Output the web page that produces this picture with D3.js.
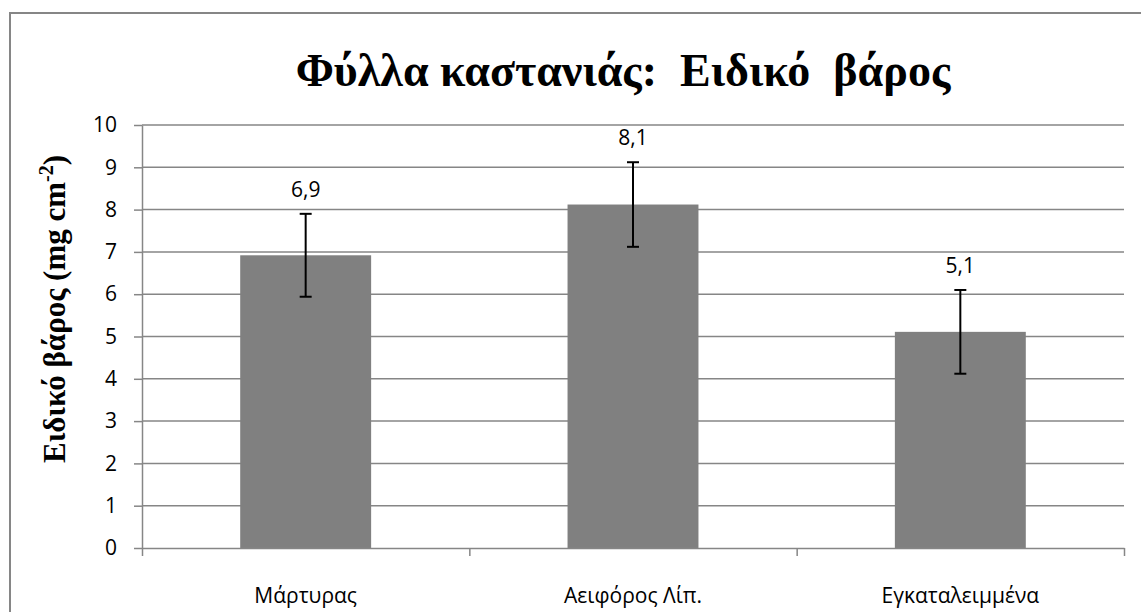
<!DOCTYPE html>
<html><head><meta charset="utf-8">
<script src="https://cdn.jsdelivr.net/npm/d3@7"></script>
<style>body{margin:0;background:#fff;}svg{display:block;}</style>
</head><body>
<script>
const categories = ["Μάρτυρας", "Αειφόρος Λίπ.", "Εγκαταλειμμένα"];
const values = [6.92, 8.12, 5.11];
const errors = [0.98, 1.0, 0.99];
const yTicks = [0,1,2,3,4,5,6,7,8,9,10];
const title = "Φύλλα καστανιάς:  Ειδικό  βάρος";

const W = 1141, H = 612;
const m = {left:142, right:1124, top:125, bottom:548};
const svg = d3.select("body").append("svg").attr("width", W).attr("height", H);

svg.append("rect").attr("x",10).attr("y",13).attr("width",1160).attr("height",640)
  .attr("fill","#fff").attr("stroke","#868686").attr("stroke-width",2);

const x = d3.scaleBand().domain(categories).range([m.left, m.right]).paddingInner(0.6).paddingOuter(0.3);
const y = d3.scaleLinear().domain([0,10]).range([m.bottom, m.top]);
const FONT = "'Open Sans', sans-serif";

// gridlines
svg.append("g").selectAll("line").data(yTicks.filter(d=>d>0)).join("line")
  .attr("x1", m.left).attr("x2", m.right)
  .attr("y1", d=>y(d)).attr("y2", d=>y(d))
  .attr("stroke","#868686").attr("stroke-width",1.5);

// y axis
const ya = svg.append("g").attr("transform",`translate(${m.left},0)`)
  .call(d3.axisLeft(y).tickValues(yTicks).tickSize(8).tickPadding(17).tickSizeOuter(0));
ya.select(".domain").attr("stroke","#868686").attr("stroke-width",1.5);
ya.selectAll(".tick line").attr("stroke","#868686").attr("stroke-width",1.5);
ya.selectAll(".tick text").attr("font-family",FONT).attr("font-size",21).attr("fill","#000");

// bars
svg.append("g").selectAll("rect").data(values).join("rect")
  .attr("x",(d,i)=>x(categories[i])).attr("width",x.bandwidth())
  .attr("y",d=>y(d)).attr("height",d=>y(0)-y(d)).attr("fill","#808080");

// x axis
const xb = d3.scaleLinear().domain([0,3]).range([m.left, m.right]);
const xa = svg.append("g").attr("transform",`translate(0,${m.bottom})`)
  .call(d3.axisBottom(xb).tickValues([0,1,2,3]).tickFormat("").tickSize(8).tickSizeOuter(0));
xa.select(".domain").attr("stroke","#868686").attr("stroke-width",1.5);
xa.selectAll(".tick line").attr("stroke","#868686").attr("stroke-width",1.5);
svg.append("g").selectAll("text").data(categories).join("text")
  .attr("x", d=>x(d)+x.bandwidth()/2).attr("y", 603)
  .attr("text-anchor","middle").attr("font-family",FONT).attr("font-size",21).attr("fill","#000")
  .text(d=>d);

// error bars
const eg = svg.append("g").attr("stroke","#000").attr("stroke-width",2);
values.forEach((v,i)=>{
  const cx = x(categories[i]) + x.bandwidth()/2;
  eg.append("line").attr("x1",cx).attr("x2",cx).attr("y1",y(v+errors[i])).attr("y2",y(v-errors[i]));
  eg.append("line").attr("x1",cx-6).attr("x2",cx+6).attr("y1",y(v+errors[i])).attr("y2",y(v+errors[i]));
  eg.append("line").attr("x1",cx-6).attr("x2",cx+6).attr("y1",y(v-errors[i])).attr("y2",y(v-errors[i]));
});

// value labels
svg.append("g").selectAll("text").data(values).join("text")
  .attr("x",(d,i)=>x(categories[i])+x.bandwidth()/2)
  .attr("y",(d,i)=>y(d+errors[i]) - 17)
  .attr("text-anchor","middle").attr("font-family",FONT).attr("font-size",21).attr("fill","#000")
  .text(d=>d3.format(".1f")(d).replace(".",","));

// title
svg.append("text").attr("x",623).attr("y",86).attr("text-anchor","middle")
  .attr("font-family","'Liberation Serif', serif").attr("font-weight","bold").attr("font-size",46)
  .attr("xml:space","preserve").style("white-space","pre").text(title);

// y title
const yt = svg.append("text").attr("transform","translate(65,309) rotate(-90)").attr("text-anchor","middle")
  .attr("font-family","'Liberation Serif', serif").attr("font-weight","bold").attr("font-size",31).attr("fill","#000");
yt.append("tspan").text("Ειδικό βάρος (mg cm");
yt.append("tspan").attr("dy",-12).attr("font-size",20).text("-2");
yt.append("tspan").attr("dy",12).text(")");
</script>
</body></html>
